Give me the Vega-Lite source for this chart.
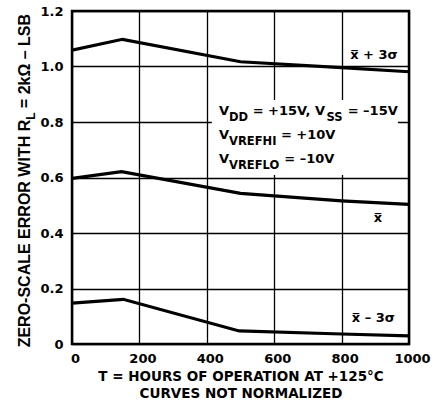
{
  "$schema": "https://vega.github.io/schema/vega-lite/v6.json",
  "width": 337,
  "height": 333,
  "autosize": {"type": "none"},
  "padding": {"left": 72, "top": 11, "right": 31, "bottom": 66},
  "background": "white",
  "config": {
    "view": {"stroke": "black", "strokeWidth": 2.5},
    "font": "DejaVu Sans",
    "axis": {
      "grid": true, "gridColor": "black", "gridWidth": 1.3, "gridOpacity": 1,
      "domain": false, "ticks": false, "labelFlush": false,
      "labelFont": "DejaVu Sans", "labelFontWeight": "bold", "labelFontSize": 13, "labelColor": "black",
      "titleFont": "DejaVu Sans", "titleFontWeight": "bold", "titleFontSize": 13.5, "titleColor": "black"
    },
    "axisX": {"tickCount": 5, "labelPadding": 8, "labelOffset": 3, "titlePadding": 4, "titleLineHeight": 17.5, "labelExpr": "format(datum.value, 'd')"},
    "axisY": {"tickCount": 6, "labelPadding": 9, "labelExpr": "datum.value == 0 ? '0' : format(datum.value, '.1f')"}
  },
  "datasets": {
    "curves": [
      {"x": 0, "y": 1.059, "series": "x+3s"},
      {"x": 150, "y": 1.098, "series": "x+3s"},
      {"x": 500, "y": 1.017, "series": "x+3s"},
      {"x": 800, "y": 0.996, "series": "x+3s"},
      {"x": 1000, "y": 0.981, "series": "x+3s"},
      {"x": 0, "y": 0.597, "series": "x"},
      {"x": 147, "y": 0.621, "series": "x"},
      {"x": 500, "y": 0.543, "series": "x"},
      {"x": 800, "y": 0.516, "series": "x"},
      {"x": 1000, "y": 0.503, "series": "x"},
      {"x": 0, "y": 0.147, "series": "x-3s"},
      {"x": 152, "y": 0.161, "series": "x-3s"},
      {"x": 496, "y": 0.047, "series": "x-3s"},
      {"x": 800, "y": 0.036, "series": "x-3s"},
      {"x": 1000, "y": 0.029, "series": "x-3s"}
    ],
    "box": [{"x": 415, "x2": 967, "y": 0.609, "y2": 0.879}],
    "curveLabels": [
      {"x": 896, "y": 1.027, "t": "x\u0305 + 3σ"},
      {"x": 908, "y": 0.441, "t": "x\u0305"},
      {"x": 894, "y": 0.079, "t": "x\u0305 – 3σ"}
    ],
    "boxMain": [
      {"x": 436, "y": 0.825, "t": "V"},
      {"x": 536, "y": 0.825, "t": "= +15V, V"},
      {"x": 818, "y": 0.825, "t": "= –15V"},
      {"x": 436, "y": 0.739, "t": "V"},
      {"x": 620, "y": 0.739, "t": "= +10V"},
      {"x": 436, "y": 0.652, "t": "V"},
      {"x": 630, "y": 0.652, "t": "= –10V"}
    ],
    "boxSub": [
      {"x": 466, "y": 0.804, "t": "DD"},
      {"x": 755, "y": 0.804, "t": "SS"},
      {"x": 466, "y": 0.717, "t": "VREFHI"},
      {"x": 466, "y": 0.631, "t": "VREFLO"}
    ],
    "yTitleMain": [
      {"x": -124.6, "y": -0.012, "t": "ZERO-SCALE ERROR WITH R"},
      {"x": -124.6, "y": 0.85, "t": "= 2kΩ – LSB"}
    ],
    "yTitleSub": [
      {"x": -111, "y": 0.808, "t": "L"}
    ]
  },
  "encoding": {
    "x": {"field": "x", "type": "quantitative", "scale": {"domain": [0, 1000], "nice": false},
          "title": ["T = HOURS OF OPERATION AT +125°C", "CURVES NOT NORMALIZED"]},
    "y": {"field": "y", "type": "quantitative", "scale": {"domain": [0, 1.2], "nice": false}, "title": null}
  },
  "layer": [
    {
      "data": {"name": "box"},
      "mark": {"type": "rect", "fill": "white", "strokeWidth": 0},
      "encoding": {
        "x2": {"field": "x2"},
        "y2": {"field": "y2"}
      }
    },
    {
      "data": {"name": "curves"},
      "mark": {"type": "line", "color": "black", "strokeWidth": 3.2, "clip": true},
      "encoding": {
        "detail": {"field": "series"}
      }
    },
    {
      "data": {"name": "curveLabels"},
      "mark": {"type": "text", "font": "DejaVu Sans", "fontWeight": "bold", "fontSize": 13, "align": "center", "baseline": "alphabetic", "color": "black"},
      "encoding": {"text": {"field": "t"}}
    },
    {
      "data": {"name": "boxMain"},
      "mark": {"type": "text", "font": "DejaVu Sans", "fontWeight": "bold", "fontSize": 13, "align": "left", "baseline": "alphabetic", "color": "black"},
      "encoding": {"text": {"field": "t"}}
    },
    {
      "data": {"name": "boxSub"},
      "mark": {"type": "text", "font": "DejaVu Sans", "fontWeight": "bold", "fontSize": 11.5, "align": "left", "baseline": "alphabetic", "color": "black"},
      "encoding": {"text": {"field": "t"}}
    },
    {
      "data": {"name": "yTitleMain"},
      "mark": {"type": "text", "font": "Liberation Sans", "fontWeight": "bold", "fontSize": 16, "angle": 270, "align": "left", "baseline": "alphabetic", "color": "black"},
      "encoding": {"text": {"field": "t"}}
    },
    {
      "data": {"name": "yTitleSub"},
      "mark": {"type": "text", "font": "Liberation Sans", "fontWeight": "bold", "fontSize": 12, "angle": 270, "align": "left", "baseline": "alphabetic", "color": "black"},
      "encoding": {"text": {"field": "t"}}
    }
  ]
}
